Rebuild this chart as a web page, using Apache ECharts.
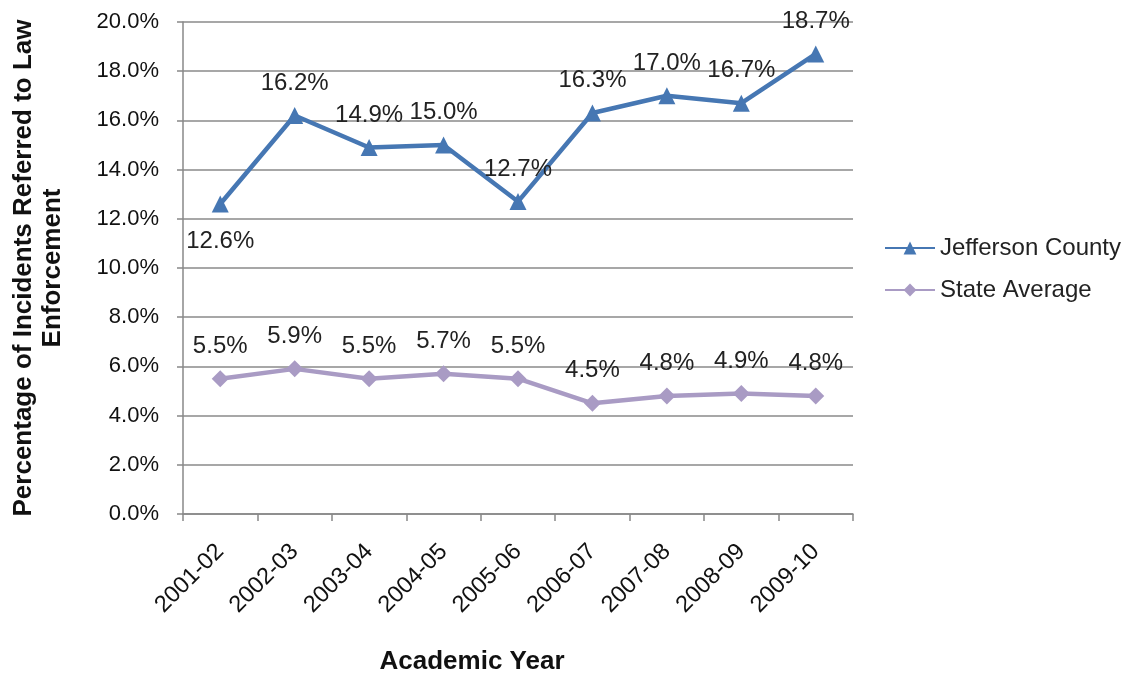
<!DOCTYPE html>
<html><head><meta charset="utf-8">
<script src="https://cdn.jsdelivr.net/npm/echarts@6/dist/echarts.min.js"></script>
<style>html,body{margin:0;padding:0;background:#fff}#c{width:1129px;height:675px}</style>
</head><body><div id="c"></div>
<script>
var categories = ['2001-02','2002-03','2003-04','2004-05','2005-06','2006-07','2007-08','2008-09','2009-10'];
var jefferson = [12.6,16.2,14.9,15.0,12.7,16.3,17.0,16.7,18.7];
var stateAvg = [5.5,5.9,5.5,5.7,5.5,4.5,4.8,4.9,4.8];
var jeffLabelPos = ['bottom','top','top','top','top','top','top','top','top'];
var font = 'Liberation Sans, Arial, sans-serif';
var chart = echarts.init(document.getElementById('c'));
chart.setOption({
  animation:false,
  backgroundColor:'#fff',
  grid:{left:183,right:276,top:22,bottom:161,containLabel:false,outerBoundsMode:'none'},
  legend:{
    orient:'vertical',left:884,top:236,padding:0,itemWidth:50,itemHeight:16,itemGap:18,
    textStyle:{fontFamily:font,fontSize:24,color:'#222'},
    data:['Jefferson County','State Average']
  },
  xAxis:{
    type:'category',data:categories,boundaryGap:true,
    name:'Academic Year',nameLocation:'middle',nameGap:135,
    nameTextStyle:{fontFamily:font,fontSize:26,fontWeight:'bold',color:'#111',padding:[0,92,0,0]},
    axisLine:{lineStyle:{color:'#888',width:1.5}},
    axisTick:{show:true,alignWithLabel:false,length:7,lineStyle:{color:'#888',width:1.5}},
    axisLabel:{rotate:45,fontFamily:font,fontSize:23.5,color:'#111',margin:34,interval:0}
  },
  yAxis:{
    type:'value',min:0,max:20,interval:2,
    name:'Percentage of Incidents Referred to Law\nEnforcement',nameLocation:'middle',nameGap:116,
    nameTextStyle:{fontFamily:font,fontSize:26,fontWeight:'bold',color:'#111',lineHeight:29},
    axisLine:{show:true,lineStyle:{color:'#888',width:1.5}},
    axisTick:{show:true,length:6,lineStyle:{color:'#888',width:1.5}},
    splitLine:{lineStyle:{color:'#8a8a8a',width:1.5}},
    axisLabel:{fontFamily:font,fontSize:22,color:'#111',margin:24,formatter:function(v){return v.toFixed(1)+'%';}}
  },
  series:[
    {name:'Jefferson County',type:'line',data:jefferson.map(function(v,i){return {value:v,label:{position:jeffLabelPos[i],distance:jeffLabelPos[i]==='bottom'?17:12}};}),
     symbol:'triangle',symbolSize:17,
     lineStyle:{color:'#4677B3',width:4.5},itemStyle:{color:'#4677B3'},
     label:{show:true,distance:12,fontFamily:font,fontSize:24,color:'#222',formatter:function(p){return p.value.toFixed(1)+'%';}}},
    {name:'State Average',type:'line',data:stateAvg,
     symbol:'diamond',symbolSize:17,
     lineStyle:{color:'#A99BC4',width:4.5},itemStyle:{color:'#A99BC4'},
     label:{show:true,position:'top',distance:12,fontFamily:font,fontSize:24,color:'#222',formatter:function(p){return p.value.toFixed(1)+'%';}}}
  ]
});
</script></body></html>
